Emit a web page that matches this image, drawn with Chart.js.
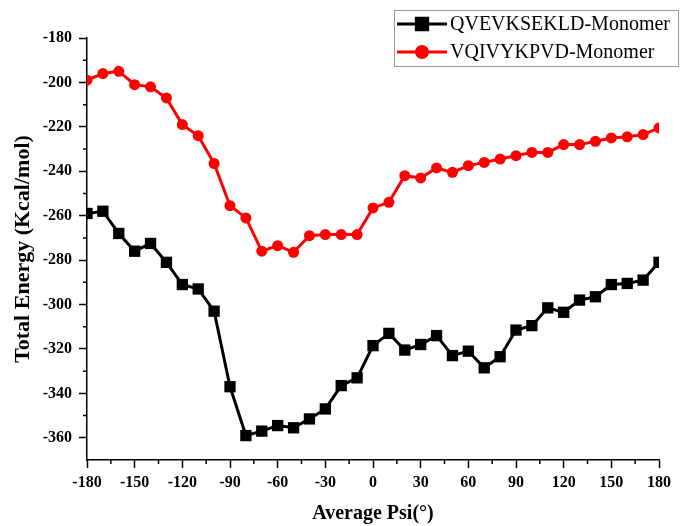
<!DOCTYPE html>
<html>
<head>
<meta charset="utf-8">
<script src="https://cdn.jsdelivr.net/npm/chart.js@4.4.0/dist/chart.umd.min.js"></script>
<style>
  html, body { margin: 0; padding: 0; background: #fff; }
  #wrap { width: 681px; height: 526px; position: relative; }
</style>
</head>
<body>
<div id="wrap"><canvas id="energyChart"></canvas></div>
<script>
var psi = [-180, -170, -160, -150, -140, -130, -120, -110, -100, -90, -80, -70, -60, -50, -40, -30, -20, -10,
    0, 10, 20, 30, 40, 50, 60, 70, 80, 90, 100, 110, 120, 130, 140, 150, 160, 170, 180];

var qvevksekld = [-259, -258, -268, -276, -272.5, -281, -291, -293, -303, -337, -359, -357, -354.5, -355.5, -351.5, -347, -336.5, -333,
    -318.5, -313, -320.5, -318, -314, -323, -321, -328.5, -323.5, -311.5, -309.5, -301.5, -303.5, -298, -296.5, -291, -290.5, -289, -281];

var vqivykpvd = [-199, -196, -195, -201, -202, -207, -219, -224, -236.5, -255.5, -261, -276, -273.5, -276.5, -269, -268.5, -268.5, -268.5,
    -256.5, -254, -242, -243, -238.5, -240.5, -237.5, -236, -234.5, -233, -231.5, -231.5, -228, -228, -226.5, -225, -224.5, -223.5, -220.5];

var xTicks = [-180, -150, -120, -90, -60, -30, 0, 30, 60, 90, 120, 150, 180];
var yTicks = [-360, -340, -320, -300, -280, -260, -240, -220, -200, -180];

var serif = '"Liberation Serif", "Times New Roman", serif';

function toPoints(values) {
    return values.map(function (v, i) { return { x: psi[i], y: v }; });
}

// short ticks halfway between the labelled ones, pointing outward
var minorTicks = {
    id: 'minorTicks',
    afterDraw: function (chart) {
        var ctx = chart.ctx;
        var xs = chart.scales.x, ys = chart.scales.y;
        var len = 4;
        ctx.save();
        ctx.strokeStyle = '#000';
        ctx.lineWidth = 1.5;
        ctx.beginPath();
        for (var i = 0; i < xTicks.length - 1; i++) {
            var px = xs.getPixelForValue((xTicks[i] + xTicks[i + 1]) / 2);
            ctx.moveTo(px, ys.bottom);
            ctx.lineTo(px, ys.bottom + len);
        }
        for (var j = 0; j < yTicks.length - 1; j++) {
            var py = ys.getPixelForValue((yTicks[j] + yTicks[j + 1]) / 2);
            ctx.moveTo(xs.left, py);
            ctx.lineTo(xs.left - len, py);
        }
        ctx.stroke();
        ctx.restore();
    }
};

// framed legend in the upper right corner
var boxLegend = {
    id: 'boxLegend',
    afterDraw: function (chart) {
        var ctx = chart.ctx;
        var left = 394, top = 10, width = 284, height = 56;
        var rowH = 28;
        ctx.save();
        ctx.fillStyle = '#fff';
        ctx.fillRect(left, top, width, height);
        ctx.strokeStyle = '#9a9a9a';
        ctx.lineWidth = 1;
        ctx.strokeRect(left + 0.5, top + 0.5, width, height);
        chart.data.datasets.forEach(function (ds, i) {
            var cy = top + 14 + i * rowH;
            ctx.strokeStyle = ds.borderColor;
            ctx.lineWidth = ds.borderWidth;
            ctx.beginPath();
            ctx.moveTo(left + 3, cy);
            ctx.lineTo(left + 53, cy);
            ctx.stroke();
            Chart.helpers.drawPoint(ctx, {
                pointStyle: ds.pointStyle,
                radius: ds.pointRadius,
                borderWidth: 1
            }, left + 28, cy);
            ctx.fillStyle = ds.borderColor;
            ctx.fill();
            ctx.fillStyle = '#000';
            ctx.font = '20px ' + serif;
            ctx.textBaseline = 'middle';
            ctx.fillText(ds.label, left + 56, cy + 1);
        });
        ctx.restore();
    }
};

new Chart(document.getElementById('energyChart'), {
    type: 'line',
    data: {
        datasets: [{
            label: 'QVEVKSEKLD-Monomer',
            data: toPoints(qvevksekld),
            borderColor: '#000000',
            backgroundColor: '#000000',
            borderWidth: 3,
            pointStyle: 'rect',
            pointRadius: 8,
            pointBorderWidth: 0,
            tension: 0
        }, {
            label: 'VQIVYKPVD-Monomer',
            data: toPoints(vqivykpvd),
            borderColor: '#ff0000',
            backgroundColor: '#ff0000',
            borderWidth: 3,
            pointStyle: 'circle',
            pointRadius: 5.5,
            pointBorderWidth: 0,
            tension: 0
        }]
    },
    options: {
        responsive: true,
        maintainAspectRatio: false,
        animation: false,
        layout: { padding: { top: 38, right: 22, bottom: 0, left: 0 } },
        plugins: { legend: { display: false }, tooltip: { enabled: false } },
        scales: {
            x: {
                type: 'linear',
                min: -180,
                max: 180,
                afterBuildTicks: function (scale) {
                    scale.ticks = xTicks.map(function (v) { return { value: v }; });
                },
                afterFit: function (scale) { scale.height = 66; },
                border: { display: true, color: '#000', width: 1.5 },
                grid: { drawOnChartArea: false, drawTicks: true, tickLength: 8, tickColor: '#000', tickWidth: 1.5 },
                ticks: {
                    color: '#000',
                    padding: 5,
                    maxRotation: 0,
                    font: { family: serif, size: 16, weight: 'bold' }
                },
                title: {
                    display: true,
                    text: 'Average Psi(°)',
                    color: '#000',
                    padding: 0,
                    font: { family: serif, size: 20, weight: 'bold' }
                }
            },
            y: {
                min: -370,
                max: -180,
                afterBuildTicks: function (scale) {
                    scale.ticks = yTicks.map(function (v) { return { value: v }; });
                },
                afterFit: function (scale) { scale.width = 87; },
                border: { display: true, color: '#000', width: 1.5 },
                grid: { drawOnChartArea: false, drawTicks: true, tickLength: 8, tickColor: '#000', tickWidth: 1.5 },
                ticks: {
                    color: '#000',
                    padding: 7,
                    font: { family: serif, size: 16, weight: 'bold' }
                },
                title: {
                    display: true,
                    text: 'Total Energy (Kcal/mol)',
                    color: '#000',
                    padding: { top: 10, bottom: 0 },
                    font: { family: serif, size: 22, weight: 'bold' }
                }
            }
        }
    },
    plugins: [minorTicks, boxLegend]
});
</script>
</body>
</html>
